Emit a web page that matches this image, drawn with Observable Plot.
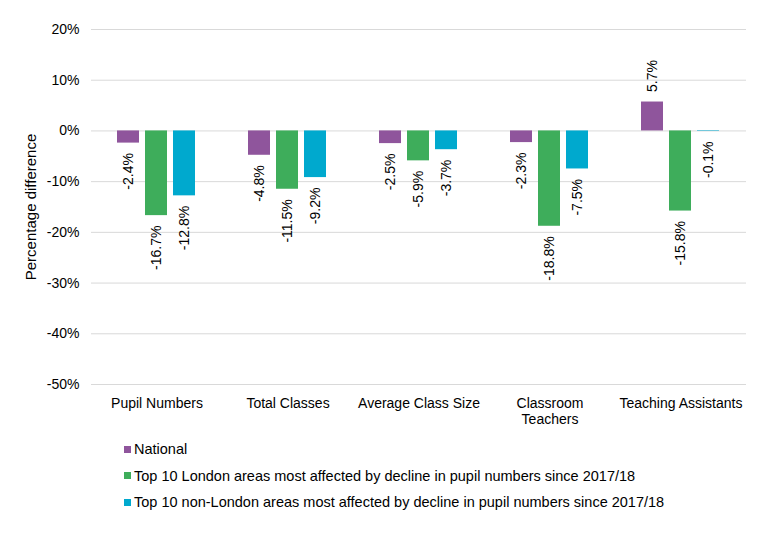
<!DOCTYPE html>
<html>
<head>
<meta charset="utf-8">
<script src="https://cdn.jsdelivr.net/npm/d3@7"></script>
<script src="https://cdn.jsdelivr.net/npm/@observablehq/plot@0.6"></script>
<style>
  body { margin: 0; background: #fff; font-family: "Liberation Sans", Arial, sans-serif; }
  #legend { margin: 6px 0 0 124px; font-size: 14.5px; color: #000; }
  .row { height: 26.5px; line-height: 26.5px; display: flex; align-items: center; }
  .sw { width: 7px; height: 7px; margin-right: 3px; }
</style>
</head>
<body>
<div id="chart"></div>
<div id="legend"></div>
<script>
const categories = ["Pupil Numbers", "Total Classes", "Average Class Size", "Classroom Teachers", "Teaching Assistants"];
const seriesNames = [
  "National",
  "Top 10 London areas most affected by decline in pupil numbers since 2017/18",
  "Top 10 non-London areas most affected by decline in pupil numbers since 2017/18"
];
const seriesColors = ["#8F559C", "#3EAD5B", "#00A9CE"];
const national = [-2.4, -4.8, -2.5, -2.3, 5.7];
const london = [-16.7, -11.5, -5.9, -18.8, -15.8];
const nonLondon = [-12.8, -9.2, -3.7, -7.5, -0.1];
const yTicks = [-50, -40, -30, -20, -10, 0, 10, 20];

const seriesValues = [national, london, nonLondon];
const data = [];
categories.forEach((c, i) => {
  seriesNames.forEach((s, j) => {
    data.push({category: c, series: s, value: seriesValues[j][i]});
  });
});

const fmt = v => v.toFixed(1) + "%";

const chart = Plot.plot({
  width: 770,
  height: 430,
  marginLeft: 90,
  marginRight: 24,
  marginTop: 29,
  marginBottom: 46,
  style: {fontFamily: "Liberation Sans, Arial, sans-serif", fontSize: "14px", color: "#000", background: "#fff"},
  fx: {domain: categories, padding: 0},
  x: {domain: seriesNames, paddingInner: 0.2, paddingOuter: 0.87, axis: null},
  y: {domain: [-50, 20]},
  color: {domain: seriesNames, range: seriesColors},
  marks: [
    Plot.gridY(yTicks, {stroke: "#d9d9d9", strokeOpacity: 1, strokeWidth: 1}),
    Plot.axisY(yTicks, {tickSize: 0, tickPadding: 12, tickFormat: d => d + "%", label: null, fontSize: 14}),
    Plot.axisFx({anchor: "bottom", tickSize: 0, tickPadding: 12, label: null, fontSize: 14, lineHeight: 1.15,
      tickFormat: d => d === "Classroom Teachers" ? "Classroom\nTeachers" : d}),
    Plot.text(["Percentage difference"], {frameAnchor: "left", textAnchor: "middle", rotate: -90, dx: -60, fontSize: 15, facet: "super"}),
    Plot.barY(data, {fx: "category", x: "series", y: "value", fill: "series"}),
    Plot.text(data.filter(d => d.value < 0), {fx: "category", x: "series", y: "value", text: d => fmt(d.value),
      rotate: -90, textAnchor: "end", dy: 10, fontSize: 14, fill: "#000"}),
    Plot.text(data.filter(d => d.value >= 0), {fx: "category", x: "series", y: "value", text: d => fmt(d.value),
      rotate: -90, textAnchor: "start", dy: -10, fontSize: 14, fill: "#000"})
  ]
});
document.getElementById("chart").appendChild(chart);

const legend = document.getElementById("legend");
seriesNames.forEach((s, i) => {
  const row = document.createElement("div");
  row.className = "row";
  const sw = document.createElement("span");
  sw.className = "sw";
  sw.style.background = seriesColors[i];
  const t = document.createElement("span");
  t.textContent = s;
  row.appendChild(sw);
  row.appendChild(t);
  legend.appendChild(row);
});
</script>
</body>
</html>
